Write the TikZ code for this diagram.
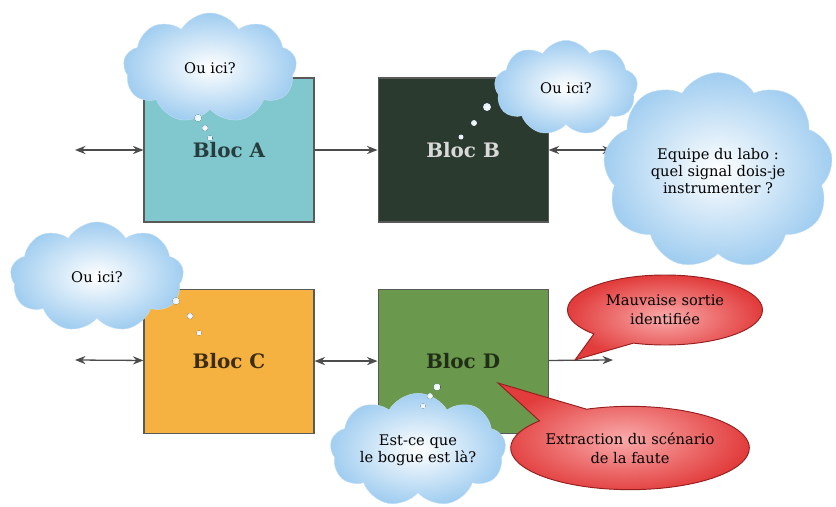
\documentclass[tikz,border=0pt]{standalone}
\usepackage{fontspec}
\setmainfont{DejaVu Serif}
\usepackage{xcolor}
\usetikzlibrary{shapes.symbols, shapes.callouts, arrows.meta, positioning}

\definecolor{fondA}{RGB}{128,200,205}
\definecolor{fondB}{RGB}{43,58,47}
\definecolor{fondC}{RGB}{246,178,64}
\definecolor{fondD}{RGB}{106,152,76}
\definecolor{cielbleu}{RGB}{160,205,240}
\definecolor{rougein}{RGB}{250,170,170}
\definecolor{rougeout}{RGB}{226,60,60}
\definecolor{rougebord}{RGB}{150,30,30}

\begin{document}
\begin{tikzpicture}[
    x=0.03cm, y=-0.03cm,
    node distance=1.98cm and 1.89cm,
    bloc/.style={rectangle, draw=black!65, line width=0.9pt, minimum width=5.1cm,
                 minimum height=4.32cm, font=\fontsize{17}{19}\selectfont\bfseries},
    nuage/.style={cloud, cloud puffs=9, cloud puff arc=120, cloud ignores aspect,
                  inner color=white, outer color=cielbleu, draw=cielbleu!70,
                  align=center, font=\fontsize{12.5}{14.5}\selectfont},
    bulle/.style={ellipse callout, callout pointer arc=28, draw=rougebord, thick,
                  inner sep=0pt, inner color=rougein, outer color=rougeout,
                  align=center, font=\fontsize{12.5}{16}\selectfont},
    lien/.style={{Stealth[length=9pt,width=7pt]}-{Stealth[length=9pt,width=7pt]},
                 line width=1.1pt, draw=black!70},
    sortie/.style={-{Stealth[length=9pt,width=7pt]}, line width=1.1pt, draw=black!70},
]
\useasboundingbox (0,0) rectangle (836,507);

%% Blocs
\node[bloc, fill=fondA, text=fondA!30!black] (A) at (229,150) {Bloc A};
\node[bloc, fill=fondB, text=white!85!black, right=of A] (B) {Bloc B};
\node[bloc, fill=fondC, text=fondC!25!black, below=of A] (C) {Bloc C};
\node[bloc, fill=fondD, text=fondD!30!black, right=of C] (D) {Bloc D};

%% Free ends of the links
\coordinate (entreeA) at (75,150);
\coordinate (sortieB) at (613,150);
\coordinate (entreeC) at (75,360);
\coordinate (sortieD) at (613,360);

%% Links
\foreach \from/\to in {entreeA/A, B/sortieB, entreeC/C, C/D}
    \draw[lien] (\from) -- (\to);
\draw[sortie] (A) -- (B);
\draw[sortie] (D) -- (sortieD);

%% Clouds
\node[nuage, minimum width=5.2cm, minimum height=3.3cm] (nA) at (210,68) {Ou ici?};
\node[nuage, minimum width=4.3cm, minimum height=2.85cm] (nB) at (566,88) {Ou ici?};
\node[nuage, minimum width=6.9cm, minimum height=5.9cm] (labo) at (718,171)
    {Equipe du labo :\\quel signal dois-je\\instrumenter ?};
\node[nuage, minimum width=5.2cm, minimum height=3.3cm] (nC) at (97,277) {Ou ici?};
\node[nuage, minimum width=5.2cm, minimum height=3.4cm] (nD) at (418,450)
    {Est-ce que\\le bogue est là?};

%% Thought dots
\foreach \x/\y/\r in {198/118/3.5, 205/128/3, 210/138/2.5,
                      487/107/4, 474/123/3, 461/137/2.5,
                      176/301/3.5, 190/316/3, 199/333/2.5,
                      437/387/3.5, 430/396/3, 423/406/2.5}
    \fill[inner color=white, outer color=cielbleu!35] (\x,\y) circle[radius=\r];

%% Callouts
\coordinate (pointeM) at (575,360);
\coordinate (pointeE) at (498,383);
\node[bulle, minimum width=5.85cm, minimum height=2.1cm,
      callout absolute pointer={(pointeM)}] (mauvaise) at (665,310)
    {Mauvaise sortie\\identifiée};
\node[bulle, minimum width=6.75cm, minimum height=2.5cm,
      callout absolute pointer={(pointeE)}] (extraction) at (630,448)
    {Extraction du scénario\\de la faute};

\end{tikzpicture}
\end{document}
